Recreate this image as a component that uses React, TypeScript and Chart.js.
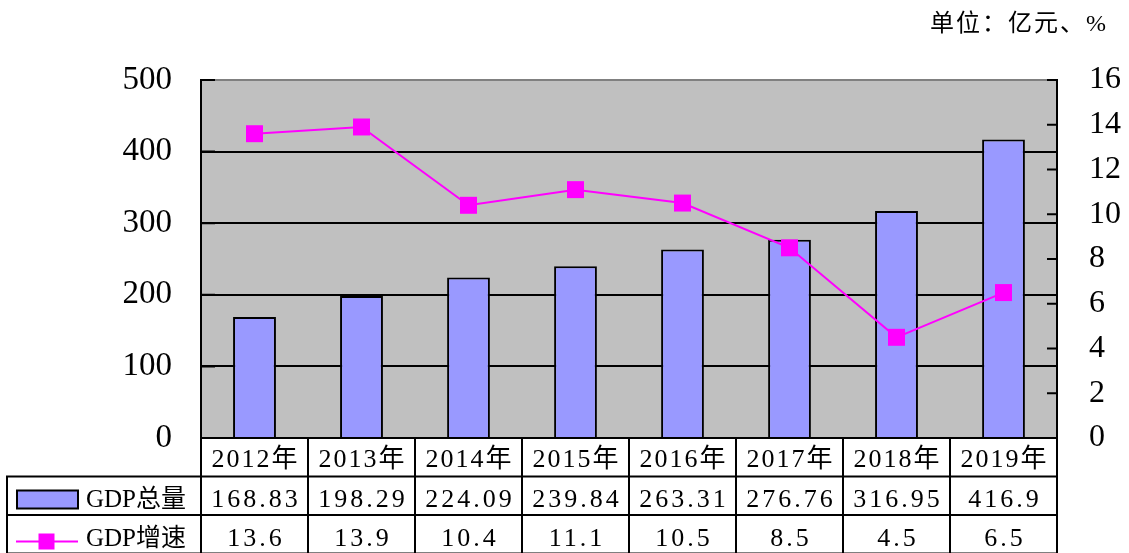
import React, { useEffect, useRef } from "react";
import { Chart, registerables } from "chart.js";

Chart.register(...registerables);

const categories = ["2012年", "2013年", "2014年", "2015年", "2016年", "2017年", "2018年", "2019年"];
const gdpTotal = [168.83, 198.29, 224.09, 239.84, 263.31, 276.76, 316.95, 416.9];
const gdpGrowth = [13.6, 13.9, 10.4, 11.1, 10.5, 8.5, 4.5, 6.5];
const seriesNames = ["GDP总量", "GDP增速"];
const unitText = "单位：亿元、%";
const leftMax = 500;
const leftStep = 100;
const rightMax = 16;
const rightStep = 2;

const BAR_COLOR = "#9999FF";
const LINE_COLOR = "#FF00FF";
const PLOT_BG = "#C0C0C0";
const FONT_FAMILY = '"Liberation Serif", "Noto Sans CJK SC", serif';

const plotPlugin = {
  id: "plotDecor",
  beforeDraw(chart: any) {
    const { ctx, chartArea: ca } = chart;
    ctx.save();
    ctx.fillStyle = "#ffffff";
    ctx.fillRect(0, 0, chart.width, chart.height);
    ctx.fillStyle = PLOT_BG;
    ctx.fillRect(ca.left, ca.top, ca.right - ca.left, ca.bottom - ca.top);
    ctx.restore();
  },
  afterDatasetsDraw(chart: any) {
    const { ctx, chartArea: ca, scales } = chart;
    ctx.save();
    ctx.strokeStyle = "#808080";
    ctx.lineWidth = 2;
    ctx.beginPath();
    ctx.moveTo(ca.left, ca.top);
    ctx.lineTo(ca.right, ca.top);
    ctx.stroke();
    ctx.strokeStyle = "#000";
    ctx.lineWidth = 2;
    ctx.beginPath();
    ctx.moveTo(ca.left, ca.top - 1);
    ctx.lineTo(ca.left, ca.bottom);
    ctx.moveTo(ca.right, ca.top - 1);
    ctx.lineTo(ca.right, ca.bottom);
    ctx.stroke();
    const yl = scales.y;
    ctx.beginPath();
    for (let v = 0; v <= leftMax; v += leftStep) {
      const py = yl.getPixelForValue(v);
      ctx.moveTo(ca.left, py);
      ctx.lineTo(ca.left + 14, py);
    }
    const yr = scales.y1;
    for (let v = 0; v <= rightMax; v += rightStep) {
      const py = yr.getPixelForValue(v);
      ctx.moveTo(ca.right, py);
      ctx.lineTo(ca.right - 10, py);
    }
    ctx.stroke();
    ctx.restore();
  },
  afterDraw(chart: any) {
    const { ctx, chartArea: ca } = chart;
    const n = categories.length;
    const cw = (ca.right - ca.left) / n;
    const rowH = 38.5;
    const r0 = ca.bottom;
    const rows = [r0, r0 + rowH, r0 + 2 * rowH, r0 + 3 * rowH];
    const tableLeft = 7;
    ctx.save();
    ctx.fillStyle = "#fff";
    ctx.fillRect(ca.left, r0, ca.right - ca.left, rows[3] - r0);
    ctx.fillRect(tableLeft, rows[1], ca.left - tableLeft, rows[3] - rows[1]);
    ctx.strokeStyle = "#000";
    ctx.lineWidth = 2;
    ctx.beginPath();
    ctx.moveTo(ca.left - 1, rows[0]);
    ctx.lineTo(ca.right + 1, rows[0]);
    for (let r = 1; r <= 3; r++) {
      ctx.moveTo(tableLeft - 1, rows[r]);
      ctx.lineTo(ca.right + 1, rows[r]);
    }
    for (let i = 0; i <= n; i++) {
      const xv = ca.left + i * cw;
      ctx.moveTo(xv, rows[0]);
      ctx.lineTo(xv, rows[3]);
    }
    ctx.moveTo(tableLeft, rows[1]);
    ctx.lineTo(tableLeft, rows[3]);
    ctx.stroke();

    ctx.fillStyle = "#000";
    ctx.textAlign = "center";
    ctx.textBaseline = "alphabetic";
    ctx.font = `26px ${FONT_FAMILY}`;
    (ctx as any).letterSpacing = "2px";
    for (let i = 0; i < n; i++) {
      const cx = ca.left + (i + 0.5) * cw + 1;
      ctx.fillText(categories[i], cx, rows[0] + 29);
    }
    (ctx as any).letterSpacing = "3px";
    for (let i = 0; i < n; i++) {
      const cx = ca.left + (i + 0.5) * cw + 1.5;
      ctx.fillText(String(gdpTotal[i]), cx, rows[1] + 30.5);
      ctx.fillText(String(gdpGrowth[i]), cx, rows[2] + 30.5);
    }
    ctx.font = `25px ${FONT_FAMILY}`;
    (ctx as any).letterSpacing = "0px";
    ctx.textAlign = "left";
    ctx.fillText(seriesNames[0], 86, rows[1] + 30.5);
    ctx.fillText(seriesNames[1], 86, rows[2] + 30.5);
    ctx.fillStyle = BAR_COLOR;
    ctx.fillRect(17, rows[1] + 14, 61, 18);
    ctx.strokeRect(17, rows[1] + 14, 61, 18);
    ctx.strokeStyle = LINE_COLOR;
    ctx.lineWidth = 2;
    ctx.beginPath();
    ctx.moveTo(16, rows[2] + 26.5);
    ctx.lineTo(78, rows[2] + 26.5);
    ctx.stroke();
    ctx.fillStyle = LINE_COLOR;
    ctx.fillRect(38.5, rows[2] + 18.5, 16, 16);

    ctx.fillStyle = "#000";
    ctx.textAlign = "right";
    ctx.font = `24px ${FONT_FAMILY}`;
    (ctx as any).letterSpacing = "2px";
    ctx.fillText(unitText, 1108, 31);
    ctx.restore();
  },
};

export default function App() {
  const canvasRef = useRef<HTMLCanvasElement | null>(null);

  useEffect(() => {
    if (!canvasRef.current) return;
    const chart = new Chart(canvasRef.current, {
      type: "bar",
      data: {
        labels: categories,
        datasets: [
          {
            type: "line",
            label: seriesNames[1],
            data: gdpGrowth,
            yAxisID: "y1",
            borderColor: LINE_COLOR,
            backgroundColor: LINE_COLOR,
            borderWidth: 2,
            pointStyle: "rect",
            pointRadius: 12,
            pointBorderWidth: 0,
            pointBackgroundColor: LINE_COLOR,
            tension: 0,
            order: 0,
          } as any,
          {
            type: "bar",
            label: seriesNames[0],
            data: gdpTotal,
            yAxisID: "y",
            backgroundColor: BAR_COLOR,
            borderColor: "#000",
            borderWidth: 2,
            barPercentage: 0.4,
            categoryPercentage: 1,
            order: 1,
          },
        ],
      },
      options: {
        animation: false,
        responsive: true,
        maintainAspectRatio: false,
        layout: { padding: { top: 80, bottom: 115, left: 0, right: 0 } },
        plugins: {
          legend: { display: false },
          tooltip: { enabled: false },
          title: { display: false },
        },
        scales: {
          x: { display: false },
          y: {
            position: "left",
            min: 0,
            max: leftMax,
            afterFit: (s: any) => {
              s.width = 201;
            },
            ticks: {
              stepSize: leftStep,
              color: "#000",
              padding: 29,
              font: { family: FONT_FAMILY, size: 33 },
            },
            grid: {
              drawTicks: false,
              color: (c: any) => (c.tick && (c.tick.value === leftMax || c.tick.value === 0) ? "rgba(0,0,0,0)" : "#000"),
              lineWidth: 2,
            },
            border: { display: false },
          },
          y1: {
            position: "right",
            min: 0,
            max: rightMax,
            afterFit: (s: any) => {
              s.width = 72;
            },
            ticks: {
              stepSize: rightStep,
              color: "#000",
              padding: 32,
              font: { family: FONT_FAMILY, size: 32 },
            },
            grid: { display: false, drawTicks: false },
            border: { display: false },
          },
        },
      },
      plugins: [plotPlugin],
    });
    return () => chart.destroy();
  }, []);

  return (
    <div style={{ position: "fixed", left: 0, top: 0, width: 1129, height: 553, background: "#fff" }}>
      <canvas ref={canvasRef} />
    </div>
  );
}
